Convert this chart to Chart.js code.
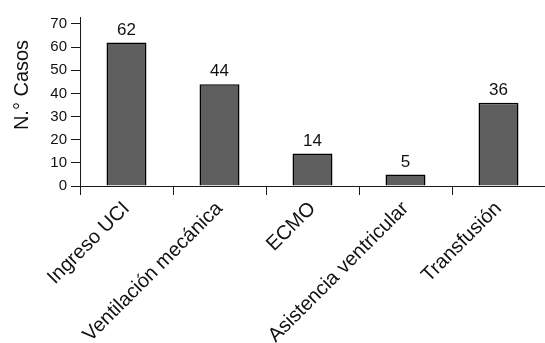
<!DOCTYPE html>
<html>
<head>
<meta charset="utf-8">
<script src="https://cdn.jsdelivr.net/npm/chart.js@4/dist/chart.umd.min.js"></script>
<style>
  html, body { margin: 0; padding: 0; background: #fff; }
  canvas { display: block; }
</style>
</head>
<body>
<canvas id="chart" width="545" height="343"></canvas>
<script>
// Categorías y número de casos por intervención
const categories = ['Ingreso UCI', 'Ventilación mecánica', 'ECMO', 'Asistencia ventricular', 'Transfusión'];
const casos = [62, 44, 14, 5, 36];
const yTickValues = [0, 10, 20, 30, 40, 50, 60, 70];
const yTitle = 'N.° Casos';

const FONT = '"Liberation Sans", Arial, Helvetica, sans-serif';
const INK = '#111';
const AXIS = '#1a1a1a';

// Valores encima de cada barra y título del eje Y
const labelsPlugin = {
  id: 'labels',
  afterDatasetsDraw(chart) {
    const ctx = chart.ctx;
    const meta = chart.getDatasetMeta(0);
    ctx.save();
    ctx.fillStyle = INK;
    ctx.font = '17px ' + FONT;
    ctx.textAlign = 'center';
    ctx.textBaseline = 'bottom';
    meta.data.forEach((bar, i) => {
      ctx.fillText(String(casos[i]), bar.x, bar.y - 4);
    });
    ctx.restore();

    ctx.save();
    ctx.fillStyle = INK;
    ctx.font = '20px ' + FONT;
    ctx.textAlign = 'center';
    ctx.textBaseline = 'middle';
    ctx.translate(22, 85);
    ctx.rotate(-Math.PI / 2);
    ctx.fillText(yTitle, 0, 0);
    ctx.restore();
  }
};

new Chart(document.getElementById('chart'), {
  type: 'bar',
  data: {
    labels: categories,
    datasets: [{
      data: casos,
      backgroundColor: '#5f5f5f',
      borderColor: '#000',
      borderWidth: 1.5,
      categoryPercentage: 1,
      barPercentage: 0.43
    }]
  },
  options: {
    responsive: false,
    animation: false,
    layout: { padding: { top: 17, right: 0, bottom: 0, left: 0 } },
    plugins: {
      legend: { display: false },
      tooltip: { enabled: false }
    },
    scales: {
      x: {
        afterFit(scale) { scale.height = 157; },
        grid: {
          display: true,
          offset: true,
          drawOnChartArea: false,
          drawTicks: true,
          tickLength: 9,
          color: AXIS,
          lineWidth: 1
        },
        border: { display: true, color: AXIS, width: 1 },
        ticks: {
          autoSkip: false,
          minRotation: 45,
          maxRotation: 45,
          padding: 2,
          color: INK,
          font: { family: FONT, size: 20 }
        }
      },
      y: {
        min: 0,
        max: 73,
        afterFit(scale) { scale.width = 80; },
        afterBuildTicks(scale) {
          scale.ticks = yTickValues.map(v => ({ value: v }));
        },
        grid: {
          display: true,
          drawOnChartArea: false,
          drawTicks: true,
          tickLength: 9,
          color: AXIS,
          lineWidth: 1
        },
        border: { display: true, color: AXIS, width: 1 },
        ticks: {
          includeBounds: false,
          padding: 4,
          color: INK,
          font: { family: FONT, size: 15 }
        }
      }
    }
  },
  plugins: [labelsPlugin]
});
</script>
</body>
</html>
